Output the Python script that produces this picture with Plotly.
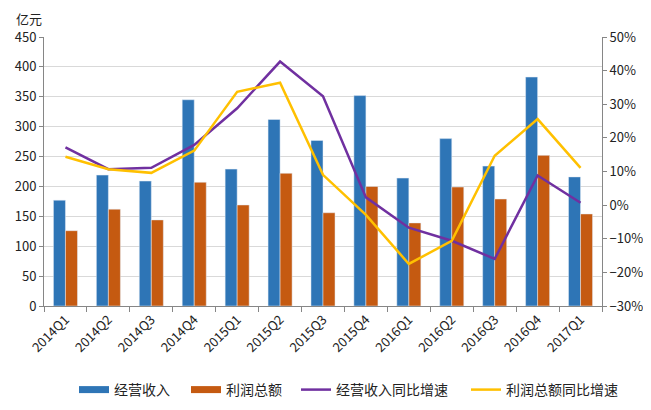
import plotly.graph_objects as go

categories = ["2014Q1","2014Q2","2014Q3","2014Q4","2015Q1","2015Q2","2015Q3",
              "2015Q4","2016Q1","2016Q2","2016Q3","2016Q4","2017Q1"]
revenue = [177, 219, 209, 345, 229, 312, 277, 352, 214, 280, 234, 383, 216]
profit = [126, 162, 144, 207, 169, 222, 156, 200, 139, 199, 179, 252, 154]
revenue_yoy = [17.2, 10.7, 11.1, 17.9, 28.8, 42.7, 32.4, 2.3, -6.7, -10.6, -16.0, 8.8, 0.7]
profit_yoy = [14.4, 10.7, 9.6, 16.2, 33.7, 36.4, 9.0, -2.9, -17.5, -10.6, 14.7, 25.6, 11.1]

font = "Noto Sans CJK SC, Microsoft YaHei, sans-serif"
c_rev, c_pro, c_ryoy, c_pyoy = "#2E75B6", "#C55A11", "#7030A0", "#FFC000"

W, H = 643, 402  # page body adds an 8px margin

fig = go.Figure()
fig.add_bar(x=categories, y=revenue, name="经营收入", marker_color=c_rev, showlegend=False)
fig.add_bar(x=categories, y=profit, name="利润总额", marker_color=c_pro, showlegend=False)
fig.add_scatter(x=categories, y=revenue_yoy, name="经营收入同比增速", mode="lines",
                line=dict(color=c_ryoy, width=2.5), yaxis="y2", showlegend=False)
fig.add_scatter(x=categories, y=profit_yoy, name="利润总额同比增速", mode="lines",
                line=dict(color=c_pyoy, width=2.5), yaxis="y2", showlegend=False)

# legend entries (wide swatches like the reference), one legend each
legend_items = [("经营收入", c_rev, 7, "y", "legend", 80),
                ("利润总额", c_pro, 7, "y", "legend2", 192),
                ("经营收入同比增速", c_ryoy, 2.5, "y2", "legend3", 302),
                ("利润总额同比增速", c_pyoy, 2.5, "y2", "legend4", 472)]
legend_layout = {}
for name, color, w, yax, lg, xstart in legend_items:
    fig.add_scatter(x=[None], y=[None], name=name, mode="lines",
                    line=dict(color=color, width=w), yaxis=yax, showlegend=True, legend=lg)
    legend_layout[lg] = dict(orientation="h", xref="container", yref="container",
                             x=(xstart - 8 - 6) / W, xanchor="left",
                             y=1 - (390 - 8) / H, yanchor="middle",
                             font=dict(size=14), itemwidth=30,
                             bgcolor="rgba(0,0,0,0)")

fig.update_layout(
    width=W, height=H,
    margin=dict(l=36, r=49, t=29, b=104),
    paper_bgcolor="white", plot_bgcolor="white",
    font=dict(family=font, size=13, color="#222222"),
    barmode="group", bargap=0.44, bargroupgap=0,
    showlegend=True,
    xaxis=dict(showline=True, linecolor="#868686", ticks="outside", tickcolor="#868686",
               ticklen=5, tickson="boundaries", tickangle=-45, tickfont=dict(size=13),
               showgrid=False, automargin=False),
    yaxis=dict(range=[0, 450], dtick=50, showline=True, linecolor="#868686",
               ticks="outside", tickcolor="#868686", ticklen=4,
               gridcolor="#D9D9D9", zeroline=False, tickfont=dict(size=13), automargin=False),
    yaxis2=dict(range=[-30, 50], dtick=10, ticksuffix="%", overlaying="y", side="right",
                showline=True, linecolor="#868686", ticks="outside", tickcolor="#868686",
                ticklen=4, showgrid=False, zeroline=False, tickfont=dict(size=13),
                automargin=False),
    **legend_layout,
)
fig.layout.annotations = [dict(text="亿元", x=-0.052, y=1.106, xref="paper", yref="paper",
                               xanchor="left", yanchor="top", showarrow=False, borderpad=0,
                               font=dict(size=13))]

fig.write_html("out.html")
